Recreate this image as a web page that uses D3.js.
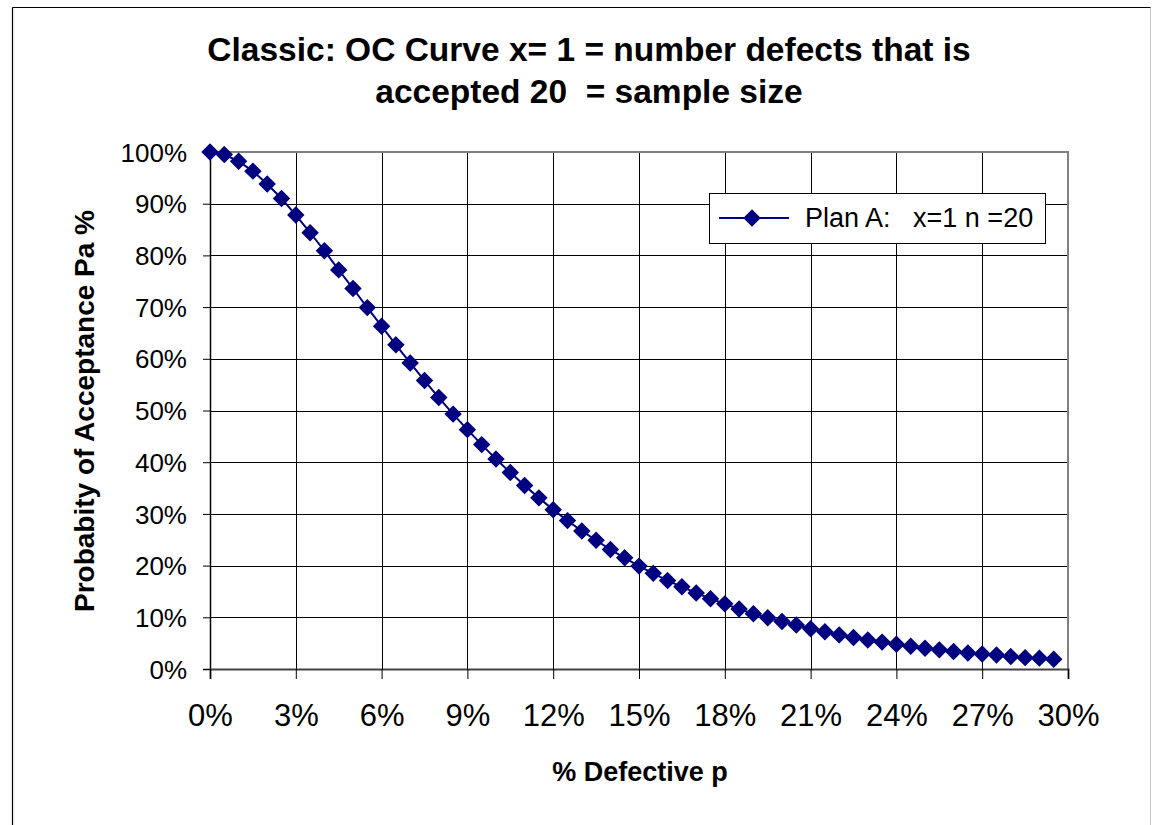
<!DOCTYPE html>
<html>
<head>
<meta charset="utf-8">
<script src="https://cdn.jsdelivr.net/npm/d3@7"></script>
<style>
  html, body { margin: 0; padding: 0; background: #fff; }
  svg { display: block; font-family: Arial, "Liberation Sans", sans-serif; }
  text { white-space: pre; }
</style>
</head>
<body>
<svg id="chart" width="1152" height="825"></svg>
<script>
// ---- data ----
const titleLines = ["Classic: OC Curve x= 1 = number defects that is", "accepted 20  = sample size"];
const xLabel = "% Defective p";
const yLabel = "Probabity of Acceptance Pa %";
const seriesName = "Plan A:   x=1 n =20";

const defectivePct = [0, 0.5, 1, 1.5, 2, 2.5, 3, 3.5, 4, 4.5, 5, 5.5, 6, 6.5, 7, 7.5, 8, 8.5, 9, 9.5,
  10, 10.5, 11, 11.5, 12, 12.5, 13, 13.5, 14, 14.5, 15, 15.5, 16, 16.5, 17, 17.5, 18, 18.5, 19, 19.5,
  20, 20.5, 21, 21.5, 22, 22.5, 23, 23.5, 24, 24.5, 25, 25.5, 26, 26.5, 27, 27.5, 28, 28.5, 29, 29.5];
const acceptancePct = [100.0, 99.5, 98.2, 96.3, 93.8, 91.0, 87.8, 84.4, 80.9, 77.2, 73.6, 69.9, 66.3, 62.7, 59.2, 55.8, 52.5, 49.3, 46.3, 43.4,
  40.6, 38.0, 35.5, 33.1, 30.8, 28.7, 26.7, 24.9, 23.1, 21.5, 19.9, 18.5, 17.1, 15.9, 14.7, 13.6, 12.6, 11.6, 10.7, 9.9,
  9.2, 8.5, 7.8, 7.2, 6.6, 6.1, 5.6, 5.2, 4.8, 4.4, 4.0, 3.7, 3.4, 3.1, 2.9, 2.7, 2.4, 2.2, 2.1, 1.9];
const xTicks = [0, 3, 6, 9, 12, 15, 18, 21, 24, 27, 30];
const yTicks = [0, 10, 20, 30, 40, 50, 60, 70, 80, 90, 100];

// ---- drawing ----
const svg = d3.select("#chart");
const navy = "#000080";
const L = 210, R = 1068, T = 152, B = 669;

const x = d3.scaleLinear().domain([0, 30]).range([L, R]);
const y = d3.scaleLinear().domain([0, 100]).range([B, T]);

// outer chart border
svg.append("line").attr("x1", 12.5).attr("y1", 7.5).attr("x2", 1151).attr("y2", 7.5).attr("stroke", "#000").attr("stroke-width", 1.2);
svg.append("line").attr("x1", 12.5).attr("y1", 7.5).attr("x2", 12.5).attr("y2", 825).attr("stroke", "#000").attr("stroke-width", 1.2);
svg.append("line").attr("x1", 1150.5).attr("y1", 7.5).attr("x2", 1150.5).attr("y2", 825).attr("stroke", "#c8c8c8").attr("stroke-width", 1);

// title
svg.append("g").selectAll("text").data(titleLines).join("text")
  .attr("x", 589).attr("y", (d, i) => 61 + i * 42)
  .attr("text-anchor", "middle")
  .attr("font-size", 33.5).attr("font-weight", "bold").attr("fill", "#000")
  .text(d => d);

// gridlines
const grid = svg.append("g");
grid.selectAll("line.h").data(yTicks.filter(d => d > 0 && d < 100)).join("line")
  .attr("class", "h")
  .attr("x1", L).attr("x2", R)
  .attr("y1", d => Math.round(y(d)) + 0.5).attr("y2", d => Math.round(y(d)) + 0.5)
  .attr("stroke", "#000").attr("stroke-width", 1);
grid.selectAll("line.v").data(xTicks.filter(d => d > 0 && d < 30)).join("line")
  .attr("class", "v")
  .attr("y1", T).attr("y2", B)
  .attr("x1", d => Math.round(x(d)) + 0.5).attr("x2", d => Math.round(x(d)) + 0.5)
  .attr("stroke", "#000").attr("stroke-width", 1);

// plot border top/right (gray)
svg.append("path")
  .attr("d", `M${L},${T}H${R}V${B}`)
  .attr("fill", "none").attr("stroke", "#808080").attr("stroke-width", 2);

// axes
const yAxis = d3.axisLeft(y).tickValues(yTicks).tickFormat(d => d + "%").tickSize(7).tickPadding(16);
const gy = svg.append("g").attr("transform", `translate(${L},0)`).call(yAxis);
gy.select(".domain").attr("stroke", "#000").attr("stroke-width", 1.5);
gy.selectAll(".tick line").attr("stroke", "#000");
gy.selectAll(".tick text").attr("font-size", 26).attr("fill", "#000")
  .attr("font-family", "Arial, 'Liberation Sans', sans-serif").attr("dy", "0.35em");

const xAxis = d3.axisBottom(x).tickValues(xTicks).tickFormat(d => d + "%").tickSize(10).tickPadding(0);
const gx = svg.append("g").attr("transform", `translate(0,${B})`).call(xAxis);
gx.select(".domain").attr("stroke", "#404040").attr("stroke-width", 2);
gx.selectAll(".tick line").attr("stroke", "#000");
gx.selectAll(".tick text").attr("font-size", 31).attr("fill", "#000")
  .attr("font-family", "Arial, 'Liberation Sans', sans-serif")
  .attr("y", 57).attr("dy", 0);

// axis titles
svg.append("text")
  .attr("transform", `translate(94,411) rotate(-90)`)
  .attr("text-anchor", "middle")
  .attr("font-size", 28).attr("font-weight", "bold").attr("fill", "#000")
  .text(yLabel);
svg.append("text")
  .attr("x", 640).attr("y", 781)
  .attr("text-anchor", "middle")
  .attr("font-size", 27).attr("font-weight", "bold").attr("fill", "#000")
  .text(xLabel);

// series line
const pts = defectivePct.map((d, i) => [d, acceptancePct[i]]);
svg.append("path")
  .datum(pts)
  .attr("d", d3.line().x(d => x(d[0])).y(d => y(d[1])))
  .attr("fill", "none").attr("stroke", navy).attr("stroke-width", 2);

// markers
const diamond = d3.symbol().type(d3.symbolDiamond2).size(150);
svg.append("g").selectAll("path").data(pts).join("path")
  .attr("transform", d => `translate(${x(d[0])},${y(d[1])})`)
  .attr("d", diamond)
  .attr("fill", navy).attr("stroke", navy).attr("stroke-width", 1.5);

// legend
const lg = svg.append("g");
lg.append("rect").attr("x", 709.5).attr("y", 193.5).attr("width", 336).attr("height", 50)
  .attr("fill", "#fff").attr("stroke", "#000").attr("stroke-width", 1);
lg.append("line").attr("x1", 719).attr("x2", 789).attr("y1", 218).attr("y2", 218)
  .attr("stroke", navy).attr("stroke-width", 2);
lg.append("path").attr("transform", "translate(752,218)").attr("d", diamond)
  .attr("fill", navy).attr("stroke", navy).attr("stroke-width", 1.5);
lg.append("text").attr("x", 805).attr("y", 227)
  .attr("font-size", 27).attr("fill", "#000")
  .text(seriesName);
</script>
</body>
</html>
